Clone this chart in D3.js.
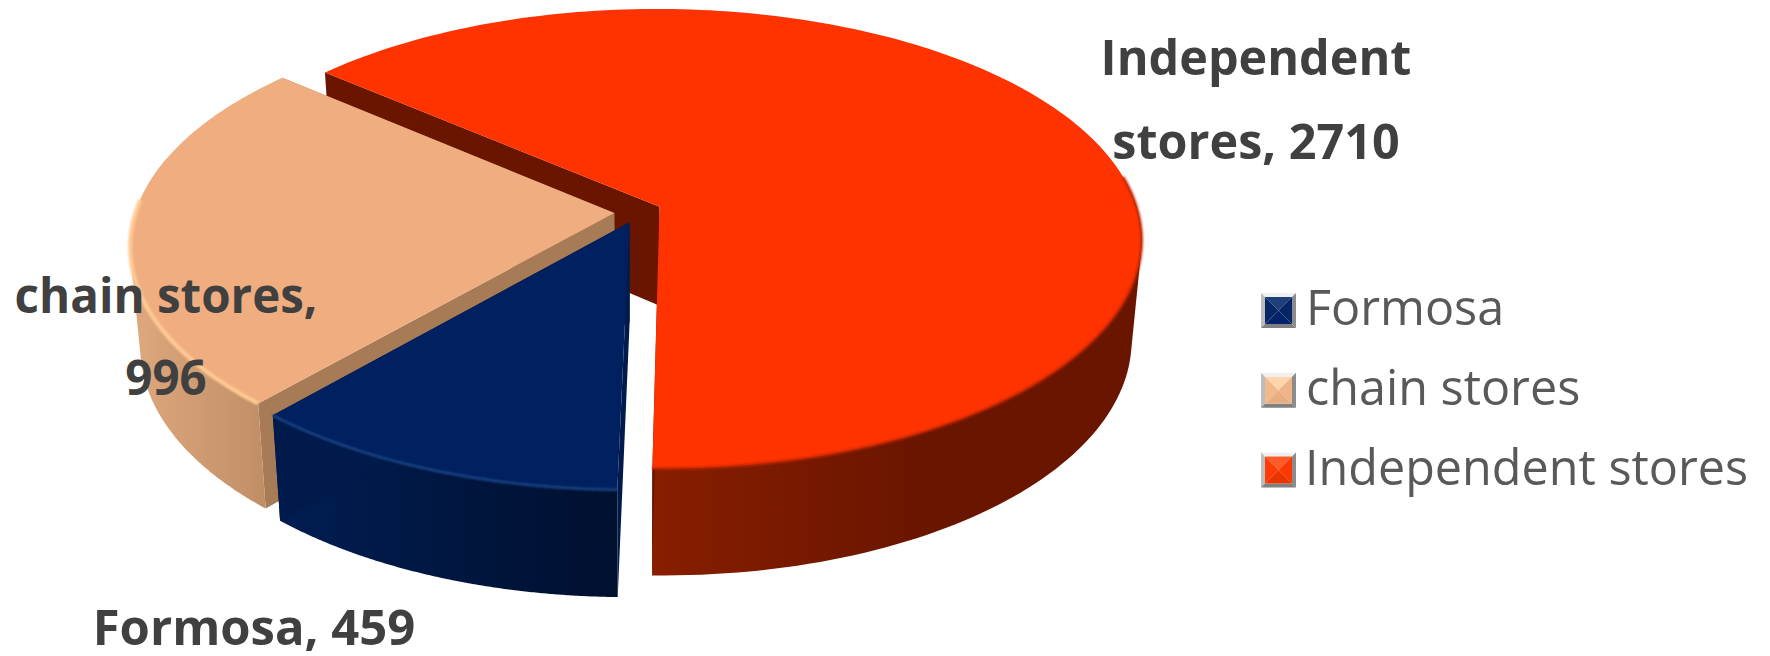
<!DOCTYPE html>
<html>
<head>
<meta charset="utf-8">
<script src="https://cdn.jsdelivr.net/npm/d3@7/dist/d3.min.js"></script>
<style>
html,body{margin:0;padding:0;background:#fff;overflow:hidden}
svg{display:block}
text{font-family:"Open Sans","Noto Sans",sans-serif}
</style>
</head>
<body>
<svg id="chart" width="1770" height="656"></svg>
<script>
// Store counts by type
const categories = ["Formosa", "chain stores", "Independent stores"];
const storeCounts = [459, 996, 2710];
const topColors = ["#002060", "#F0AE80", "#FF3300"];
const rimColors = ["#1D4787", "#FFCB94", "#B82600"];
const radialWallColors = ["#001A4C", "#A67B56", "#6A1500"];
const outerWallStops = [["#001D52", "#00102F"], ["#DDA67C", "#C08E66"], ["#8E2000", "#6A1500"]];
const swatchShades = [
  ["#1D3F7A", "#062666", "#052565", "#03246A"],
  ["#FFD5AE", "#F2B98C", "#EFB588", "#E8AE80"],
  ["#FF5A28", "#FF3C08", "#FA3804", "#E83400"]
];

const svg = d3.select("#chart");
const defs = svg.append("defs");
defs.append("filter").attr("id", "soft").append("feGaussianBlur").attr("stdDeviation", 1.1);

// Tilted disc: plane coordinates (-1..1) mapped to pixels, with a perspective factor
const centerX = 636.6, centerY = 211.7;
const xScale = d3.scaleLinear().domain([-1, 1]).range([centerX - 477, centerX + 480]);
const yScale = d3.scaleLinear().domain([-1, 1]).range([-226.8, 226.8]);
const perspective = 0.14, depth = 99, explode = 0.05;
const rimShift = 4.5 * Math.PI / 180;

function project(px, py, z) {
  const s = 1 / (1 - perspective * py);
  const shrink = 1 - 0.02 * z;
  return [
    centerX + (xScale(px * s) - centerX) * shrink,
    centerY + yScale(py * s) + depth * z * (1 + 0.08 * py)
  ];
}

const startDeg = 181.1;
const pie = d3.pie().sort(null)
  .startAngle(startDeg * Math.PI / 180)
  .endAngle((startDeg + 360) * Math.PI / 180);
const slices = pie(storeCounts);
const line = d3.line();

// Drawn back to front so nearer wedges cover the walls behind them
slices.map((slice, i) => ({ slice, i })).reverse().forEach(({ slice, i }) => {
  const mid = (slice.startAngle + slice.endAngle) / 2;
  const ox = explode * Math.sin(mid), oy = -explode * Math.cos(mid);
  // Foreshortening slides rim angles along the circle, strongest at the far side
  const warp = a => a + rimShift * Math.sin((a - Math.PI) / 2) ** 2;
  const rim = (angle, z) => {
    const w = warp(angle);
    return project(ox + Math.sin(w), oy - Math.cos(w), z);
  };
  const apex = z => project(ox, oy, z);
  const steps = d3.range(0, 181).map(k => slice.startAngle + (slice.endAngle - slice.startAngle) * k / 180);
  const g = svg.append("g").attr("class", "slice");

  // Only the part of the rim facing the viewer gets a curved wall
  const frontWall = steps.filter(a => Math.cos(a) < 0.2);
  const wallTop = frontWall.map(a => rim(a, 0));
  const wallBottom = frontWall.map(a => rim(a, 1));
  const gradId = "wall" + i;
  const grad = defs.append("linearGradient").attr("id", gradId).attr("gradientUnits", "userSpaceOnUse");
  const extent = i === 2 ? [xScale(-0.1), xScale(0.6)] : d3.extent(wallBottom, d => d[0]);
  grad.attr("x1", extent[0]).attr("x2", extent[1]).attr("y1", 0).attr("y2", 0);
  const stops = outerWallStops[i];
  grad.append("stop").attr("offset", 0).attr("stop-color", stops[0]);
  grad.append("stop").attr("offset", 1).attr("stop-color", stops[1]);

  const radialWall = a => g.append("path")
    .attr("d", line([apex(0), rim(a, 0), rim(a, 1), apex(1)]) + "Z")
    .attr("fill", radialWallColors[i]);

  radialWall(slice.startAngle);
  // Curved wall: the hull keeps the silhouette straight between top and bottom rims
  g.append("path")
    .attr("d", line(d3.polygonHull(wallTop.concat(wallBottom))) + "Z")
    .attr("fill", `url(#${gradId})`);
  radialWall(slice.endAngle);
  // Top face
  g.append("path")
    .attr("d", line([apex(0)].concat(steps.map(a => rim(a, 0)))) + "Z")
    .attr("fill", topColors[i]);
  // Soft highlight where the top face meets the wall
  const front = steps.filter(a => Math.cos(a) < 0.02 || Math.sin(a) > 0.98);
  g.append("path")
    .attr("d", line(front.map(a => rim(a, 0))))
    .attr("fill", "none")
    .attr("stroke", rimColors[i])
    .attr("stroke-width", i === 1 ? 4 : 2.4)
    .attr("filter", "url(#soft)");
});

// Data labels
const labelColor = "#404040";
const fmt = i => `${categories[i]}, ${storeCounts[i]}`;
const labelLines = [
  { lines: ["Independent", "stores, " + storeCounts[2]], anchor: [1256, 1256], ys: [75, 159], size: 48.5 },
  { lines: ["chain stores,", String(storeCounts[1])], anchor: [166, 166], ys: [313, 395], size: 47.5 },
  { lines: [fmt(0)], anchor: [254], ys: [645], size: 49 }
];
labelLines.forEach(l => {
  l.lines.forEach((t, k) => {
    svg.append("text").attr("class", "data-label")
      .attr("x", l.anchor[k]).attr("y", l.ys[k])
      .attr("text-anchor", "middle")
      .attr("font-size", l.size).attr("font-weight", 700)
      .attr("fill", labelColor).text(t);
  });
});

// Legend with bevelled swatches
const legendY = d3.scalePoint().domain(categories).range([293, 452.5]);
const size = 35, frame = 4;
const legendTextX = [1306, 1306, 1305];
categories.forEach((c, i) => {
  const y = legendY(c), x = 1261;
  const g = svg.append("g").attr("class", "legend-item").attr("transform", `translate(${x},${y})`);
  const m = size / 2;
  const poly = (pts, fill) => g.append("path").attr("d", line(pts) + "Z").attr("fill", fill);
  // Grey outer bevel
  poly([[0, 0], [size, 0], [size - frame, frame], [frame, frame]], "#F0F0F0");
  poly([[0, 0], [frame, frame], [frame, size - frame], [0, size]], "#BDBDBD");
  poly([[size, 0], [size, size], [size - frame, size - frame], [size - frame, frame]], "#8C8C8C");
  poly([[0, size], [size, size], [size - frame, size - frame], [frame, size - frame]], "#808080");
  // Coloured pyramid
  const a = frame, b = size - frame;
  poly([[a, a], [b, a], [m, m]], swatchShades[i][0]);
  poly([[a, a], [a, b], [m, m]], swatchShades[i][1]);
  poly([[b, a], [b, b], [m, m]], swatchShades[i][2]);
  poly([[a, b], [b, b], [m, m]], swatchShades[i][3]);
  svg.append("text").attr("class", "legend-label")
    .attr("x", legendTextX[i]).attr("y", y + 32)
    .attr("font-size", 48.5).attr("fill", "#595959").text(c);
});
</script>
</body>
</html>
